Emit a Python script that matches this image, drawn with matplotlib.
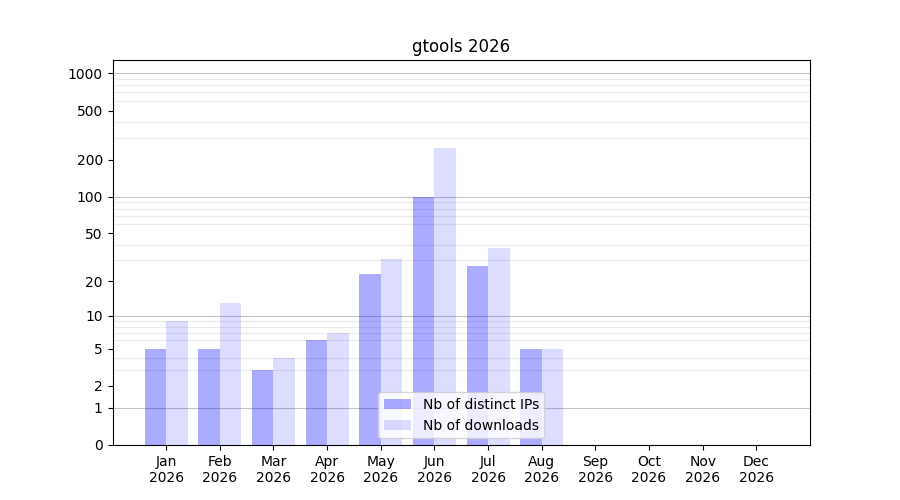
import numpy as np
import matplotlib
matplotlib.use("Agg")
import matplotlib.pyplot as plt
from matplotlib.ticker import FixedLocator

title = "gtools 2026"
months = ["Jan", "Feb", "Mar", "Apr", "May", "Jun", "Jul", "Aug", "Sep", "Oct", "Nov", "Dec"]
year = "2026"
distinct_ips = [5, 5, 3, 6, 23, 100, 27, 5, 0, 0, 0, 0]
downloads = [9, 13, 4, 7, 31, 248, 38, 5, 0, 0, 0, 0]
major_ticks = [0, 1, 2, 5, 10, 20, 50, 100, 200, 500, 1000]
decade_lines = [1, 10, 100, 1000]
minor_lines = [m * d for d in (1, 10, 100) for m in range(2, 10)]

fig, ax = plt.subplots(figsize=(9, 5), dpi=100)

fwd = lambda v: np.log10(1 + np.clip(v, 0, None))
inv = lambda v: 10 ** v - 1
ax.set_yscale("function", functions=(fwd, inv))

x = np.arange(len(months))
w = 0.4
ax.bar(x - w / 2, distinct_ips, width=w, color="blue", alpha=0.33, label="Nb of distinct IPs", zorder=2)
ax.bar(x + w / 2, downloads, width=w, color="blue", alpha=0.135, label="Nb of downloads", zorder=2)

ax.set_ylim(0, 1280)
ax.set_xlim(-1, 12)

ax.yaxis.set_major_locator(FixedLocator(major_ticks))
ax.set_yticklabels([str(t) for t in major_ticks])
ax.yaxis.set_minor_locator(FixedLocator(minor_lines))
ax.tick_params(axis="y", which="minor", length=0)
ax.grid(axis="y", which="minor", color="#ebebeb", linewidth=0.8, zorder=0)
for v in decade_lines:
    ax.axhline(v, color="#c4c4c4", linewidth=0.8, zorder=1)

ax.set_xticks(x)
ax.set_xticklabels([f"{m}\n{year}" for m in months])
ax.set_axisbelow(True)

ax.set_title(title)
ax.legend(loc="lower center")

fig.savefig("out.png", dpi=100)
